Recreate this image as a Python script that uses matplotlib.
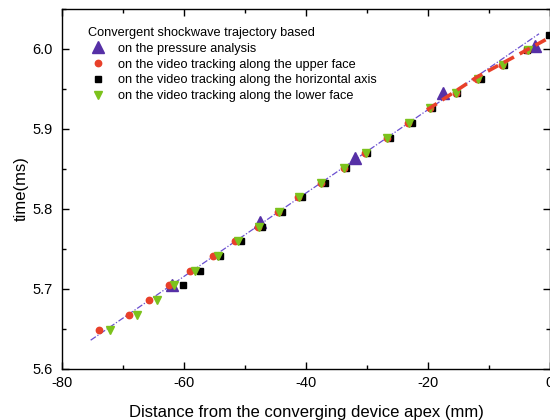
import matplotlib
matplotlib.use("Agg")
import matplotlib.pyplot as plt
from matplotlib.ticker import MultipleLocator

plt.rcParams['font.family'] = ['Liberation Sans', 'DejaVu Sans']

# Pressure analysis (triangles)
press_x = [-62.0, -47.5, -31.9, -17.5, -2.5]
press_t = [5.705, 5.784, 5.864, 5.945, 6.004]

# Video tracking, upper face (red circles)
upper_x = [-73.95, -69.04, -65.69, -62.45, -58.95, -55.22, -51.71, -47.95, -44.51, -41.24,
           -37.53, -33.72, -30.29, -26.64, -23.25, -19.66, -15.46, -11.92, -7.83, -3.75]
upper_t = [5.6488, 5.6675, 5.6859, 5.7046, 5.7229, 5.7413, 5.7596, 5.7779, 5.7963, 5.8146,
           5.8331, 5.8516, 5.8704, 5.8884, 5.9075, 5.9259, 5.9446, 5.9625, 5.9800, 5.9988]

# Video tracking, horizontal axis (black squares)
horiz_x = [-60.16, -57.38, -54.16, -50.73, -47.18, -43.94, -40.59, -36.83, -33.48, -30.07,
           -26.20, -22.65, -19.38, -15.24, -11.37, -7.56, -3.80, -0.20]
horiz_t = [5.7046, 5.7229, 5.7413, 5.7596, 5.7779, 5.7963, 5.8146, 5.8331, 5.8516, 5.8704,
           5.8884, 5.9075, 5.9259, 5.9446, 5.9625, 5.9800, 5.9988, 6.0175]

# Video tracking, lower face (green down-triangles)
lower_x = [-72.15, -67.74, -64.35, -61.72, -58.17, -54.44, -51.22, -47.78, -44.35, -41.08,
           -37.48, -33.72, -30.21, -26.69, -23.17, -19.66, -15.41, -11.81, -7.72, -3.63]
lower_t = [5.6488, 5.6675, 5.6859, 5.7046, 5.7229, 5.7413, 5.7596, 5.7779, 5.7963, 5.8146,
           5.8331, 5.8516, 5.8704, 5.8884, 5.9075, 5.9259, 5.9446, 5.9625, 5.9800, 5.9988]

# Linear fit line (purple dash-dot)
fit_x = [-75.3, -1.8]
fit_t = [5.636, 6.019]

# Near-apex fit (red dashed)
apex_x = [-20.15, -11.97, -5.92, -0.2]
apex_t = [5.9238, 5.965, 5.990, 6.0138]

legend_title = "Convergent shockwave trajectory based"
labels = ["on the pressure analysis",
          "on the video tracking along the upper face",
          "on the video tracking along the horizontal axis",
          "on the video tracking along the lower face"]

fig = plt.figure(figsize=(5.5, 4.2), dpi=100)
ax = fig.add_axes([62/550, 51/420, 488/550, 360/420])

purple = '#5630a6'
red = '#e8402a'
green = '#7cc21c'

ax.plot(fit_x, fit_t, color='#6a4fd0', lw=0.9, linestyle=(0, (5, 1.5, 1, 1.5)), zorder=2)
ax.plot(apex_x, apex_t, color=red, lw=2.6, linestyle=(0, (3.2, 1.8)), zorder=6)

h1, = ax.plot(press_x, press_t, '^', color=purple, ms=8.5, mec=purple, ls='none', zorder=3, label=labels[0])
h3, = ax.plot(horiz_x, horiz_t, 's', color='black', ms=4.2, ls='none', zorder=3, label=labels[2])
h2, = ax.plot(upper_x, upper_t, 'o', color=red, ms=4.6, ls='none', zorder=4, label=labels[1])
h4, = ax.plot(lower_x, lower_t, 'v', color=green, ms=5.2, ls='none', zorder=5, label=labels[3])

ax.set_xlim(-80, 0)
ax.set_ylim(5.6, 6.05)
ax.xaxis.set_major_locator(MultipleLocator(20))
ax.xaxis.set_minor_locator(MultipleLocator(10))
ax.yaxis.set_major_locator(MultipleLocator(0.1))
ax.yaxis.set_minor_locator(MultipleLocator(0.05))
ax.set_xticks([-80, -60, -40, -20, 0])
ax.set_xticklabels(['-80', '-60', '-40', '-20', '0'])
ax.set_yticks([5.6, 5.7, 5.8, 5.9, 6.0])
ax.set_yticklabels(['5.6', '5.7', '5.8', '5.9', '6.0'])

ax.tick_params(which='both', direction='in', top=True, right=True, labelsize=10.5, width=1.0)
ax.tick_params(which='major', length=5)
ax.tick_params(which='minor', length=3)
ax.tick_params(axis='x', pad=5)
ax.tick_params(axis='y', pad=7)
for s in ax.spines.values():
    s.set_linewidth(1.0)

ax.set_xlabel("Distance from the converging device apex (mm)", fontsize=12, labelpad=11)
ax.set_ylabel("time(ms)", fontsize=12, labelpad=2)

leg = ax.legend(handles=[h1, h2, h3, h4], labels=labels, title=legend_title,
                loc='upper left', bbox_to_anchor=(0.035, 0.975), frameon=False,
                fontsize=9.2, title_fontsize=9.2, alignment='left',
                handletextpad=0.75, labelspacing=0.3, borderpad=0.2, handlelength=1.6,
                markerscale=1.0)

fig.savefig('out.png', dpi=100)
